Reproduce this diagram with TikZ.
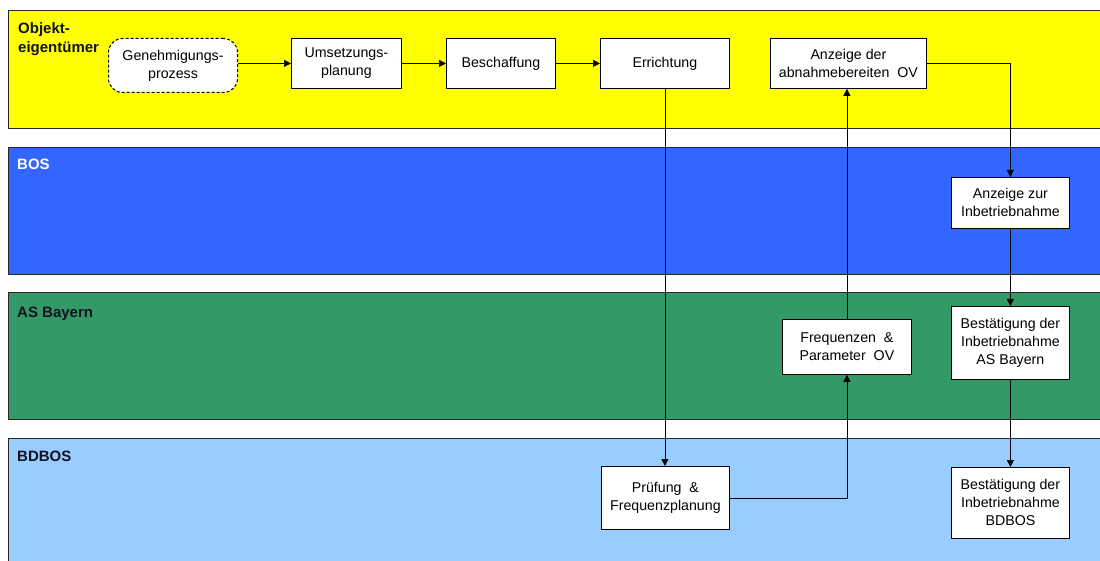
\documentclass[tikz,border=0pt]{standalone}
\usepackage{fontspec}
\setmainfont{Liberation Sans}
\usetikzlibrary{arrows.meta}
\definecolor{laneyellow}{HTML}{FFFF00}
\definecolor{laneblue}{HTML}{3366FF}
\definecolor{lanegreen}{HTML}{339966}
\definecolor{lanelight}{HTML}{99CCFF}
\definecolor{labeldark}{HTML}{111122}
\begin{document}
\begin{tikzpicture}[x=1pt,y=-1pt,
  lane/.style={draw=black!85, line width=0.8pt},
  lanelabel/.style={anchor=base west, font=\fontsize{15}{19}\selectfont\bfseries, inner sep=0pt, align=left, text=labeldark},
  box/.style={draw=black, fill=white, line width=0.8pt, anchor=north west, align=center, inner sep=0pt, font=\fontsize{14.2}{18}\selectfont},
  dashbox/.style={box, dash pattern=on 3pt off 2pt, line width=1pt, rounded corners=14pt},
  conn/.style={line width=0.7pt, -{Triangle[length=7pt,width=7pt]}}
]
\useasboundingbox (0,0) rectangle (1100,561);
\fill[white] (0,0) rectangle (1100,561);
\begin{scope}
\clip (0,0) rectangle (1100,561);
\filldraw[lane, fill=laneyellow] (8,10) rectangle (1110,128);
\filldraw[lane, fill=laneblue] (8,147) rectangle (1110,274);
\filldraw[lane, fill=lanegreen] (8,292) rectangle (1110,419);
\filldraw[lane, fill=lanelight] (8,438) rectangle (1110,580);
\end{scope}

\node[lanelabel, anchor=north west] (lobj) at (18,22) {Objekt-\\eigentümer};
\node[lanelabel, text=white] (lbos) at (17,170) {BOS};
\node[lanelabel] (las) at (17,317) {AS Bayern};
\node[lanelabel] (lbd) at (17,461) {BDBOS};

\node[dashbox, minimum width=129pt, minimum height=54pt] (gen) at (108,38) {Genehmigungs-\\prozess};
\node[box, minimum width=110pt, minimum height=50pt] (ums) at (291,38) {Umsetzungs-\\planung};
\node[box, minimum width=109pt, minimum height=50pt] (bes) at (446,38) {Beschaffung};
\node[box, minimum width=129pt, minimum height=50pt] (err) at (600,38) {Errichtung};
\node[box, minimum width=156pt, minimum height=50pt] (anz) at (770,38) {Anzeige der\\abnahmebereiten\ \ OV};
\node[box, minimum width=118pt, minimum height=51pt] (anzz) at (951,177) {Anzeige zur\\Inbetriebnahme};
\node[box, minimum width=129pt, minimum height=55pt] (freq) at (782,319) {Frequenzen\ \ \&\\Parameter\ \ OV};
\node[box, minimum width=118pt, minimum height=73pt] (best1) at (951,306) {Bestätigung der\\Inbetriebnahme\\AS Bayern};
\node[box, minimum width=128pt, minimum height=63pt] (pruf) at (601,466) {Prüfung\ \ \&\\Frequenzplanung};
\node[box, minimum width=118pt, minimum height=71pt] (best2) at (951,467) {Bestätigung der\\Inbetriebnahme\\BDBOS};

\draw[conn] (gen.east |- ums.west) -- (ums.west);
\draw[conn] (ums) -- (bes);
\draw[conn] (bes) -- (err);
\draw[conn] (err.south) -- (err.south |- pruf.north);
\draw[conn] (pruf.east) -| (freq.south);
\draw[conn] (freq.north) -- (freq.north |- anz.south);
\draw[conn] (anz.east) -| (anzz.north);
\draw[conn] (anzz) -- (best1);
\draw[conn] (best1) -- (best2);
\end{tikzpicture}
\end{document}
